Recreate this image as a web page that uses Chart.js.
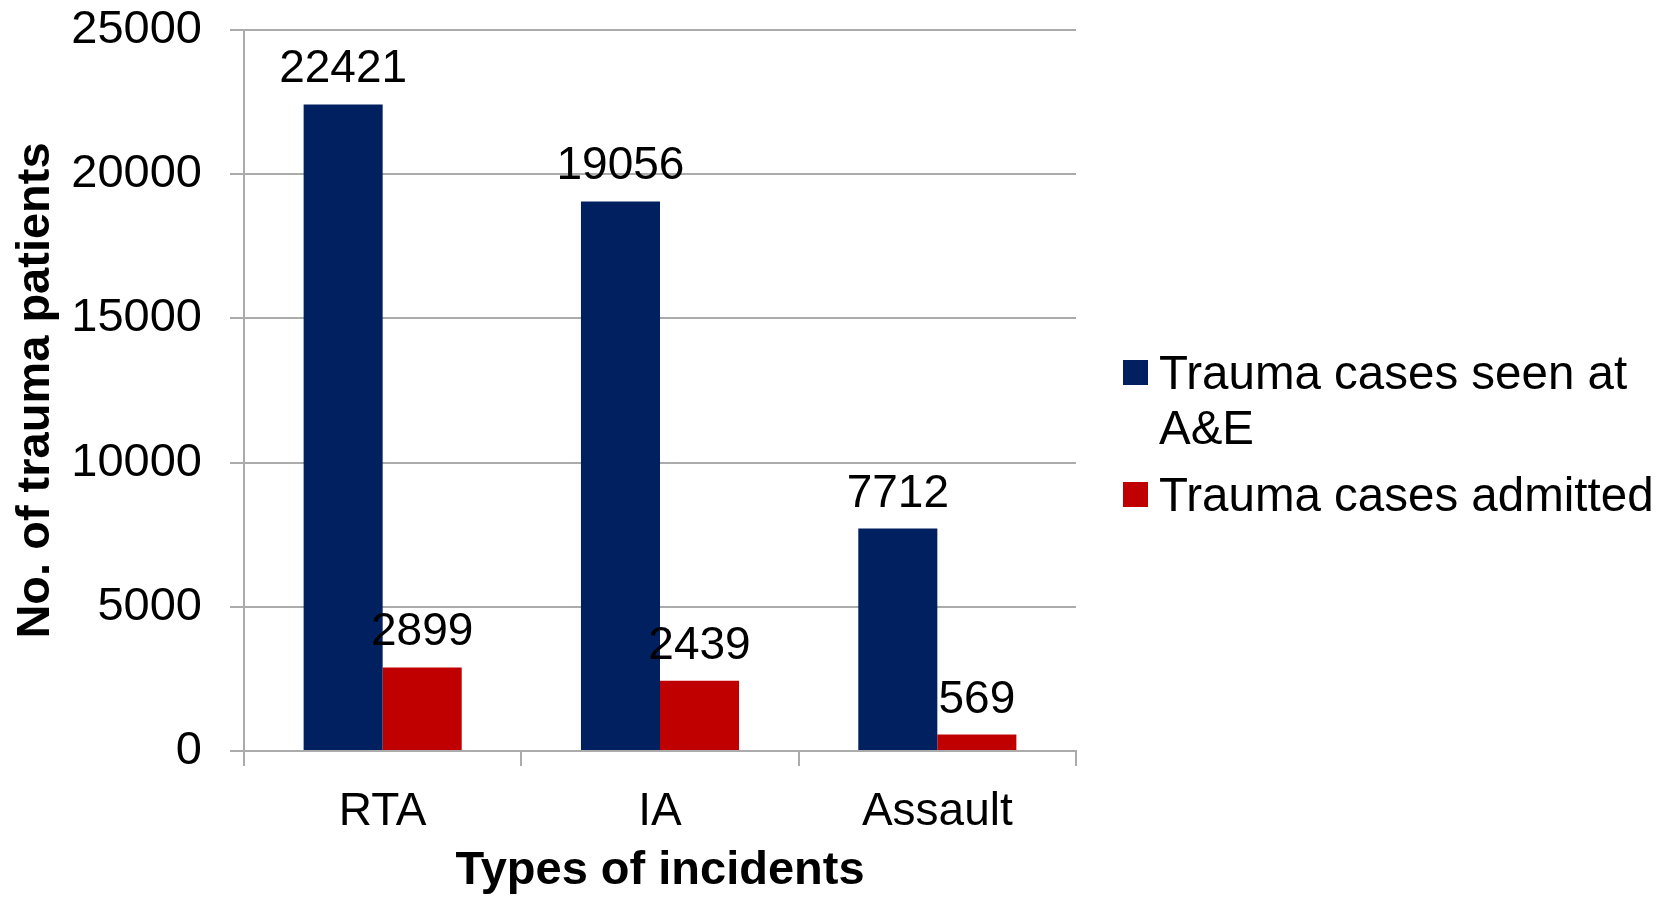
<!DOCTYPE html>
<html>
<head>
<meta charset="utf-8">
<title>Trauma patients by type of incident</title>
<script src="https://cdn.jsdelivr.net/npm/chart.js@4.4.1/dist/chart.umd.min.js"></script>
<style>
    html, body { margin: 0; padding: 0; background: #fff; overflow: hidden; }
    #wrap { width: 1665px; height: 899px; position: relative; }
</style>
</head>
<body>
<div id="wrap"><canvas id="traumaChart"></canvas></div>
<script>
const incidentTypes = ['RTA', 'IA', 'Assault'];
const seenAtAE = [22421, 19056, 7712];
const admitted = [2899, 2439, 569];
const seriesNames = ['Trauma cases seen at A&E', 'Trauma cases admitted'];
// legend text wrapped the way the original shows it
const legendLines = [['Trauma cases seen at', 'A&E'], ['Trauma cases admitted']];
const seriesColors = ['#002060', '#C00000'];

const FONT = '"Liberation Sans", Arial, Helvetica, sans-serif';
const gridColor = '#ababab';

// numbers above each bar
const valueLabels = {
    id: 'valueLabels',
    afterDatasetsDraw(chart) {
        const ctx = chart.ctx;
        ctx.save();
        ctx.font = '46px ' + FONT;
        ctx.fillStyle = '#000';
        ctx.textAlign = 'center';
        ctx.textBaseline = 'alphabetic';
        chart.data.datasets.forEach((ds, i) => {
            chart.getDatasetMeta(i).data.forEach((bar, j) => {
                ctx.fillText(String(ds.data[j]), bar.x, bar.y - 22);
            });
        });
        ctx.restore();
    }
};

// legend on the right, first item wraps onto two lines
const sideLegend = {
    id: 'sideLegend',
    afterDraw(chart) {
        const ctx = chart.ctx;
        const boxX = chart.chartArea.right + 47;
        const baselines = [389, 511];
        ctx.save();
        ctx.font = '47.5px ' + FONT;
        ctx.textAlign = 'left';
        ctx.textBaseline = 'alphabetic';
        legendLines.forEach((lines, i) => {
            const y = baselines[i];
            ctx.fillStyle = seriesColors[i];
            ctx.fillRect(boxX, y - 29, 25, 25);
            ctx.fillStyle = '#000';
            lines.forEach((line, k) => {
                ctx.fillText(line, boxX + 36, y + k * 55);
            });
        });
        ctx.restore();
    }
};

const ctx = document.getElementById('traumaChart').getContext('2d');
const traumaChart = new Chart(ctx, {
    type: 'bar',
    data: {
        labels: incidentTypes,
        datasets: [{
            label: seriesNames[0],
            data: seenAtAE,
            backgroundColor: seriesColors[0]
        }, {
            label: seriesNames[1],
            data: admitted,
            backgroundColor: seriesColors[1]
        }]
    },
    options: {
        responsive: true,
        maintainAspectRatio: false,
        animation: false,
        datasets: {
            bar: {
                categoryPercentage: 0.57,
                barPercentage: 1.0
            }
        },
        layout: {
            padding: { top: 30, right: 589, bottom: 0, left: 0 }
        },
        plugins: {
            legend: { display: false },
            tooltip: { enabled: false }
        },
        scales: {
            x: {
                afterFit: scale => {
                    scale.height = 148;
                    scale.paddingLeft = 0;
                    scale.paddingRight = 0;
                },
                grid: {
                    drawOnChartArea: false,
                    drawTicks: true,
                    tickLength: 15,
                    color: gridColor,
                    lineWidth: 2
                },
                border: { display: true, color: gridColor, width: 2 },
                ticks: {
                    color: '#000',
                    padding: 19,
                    font: { family: FONT, size: 46 }
                },
                title: {
                    display: true,
                    text: 'Types of incidents',
                    color: '#000',
                    padding: { top: 0, bottom: 0 },
                    font: { family: FONT, size: 47, weight: 'bold' }
                }
            },
            y: {
                min: 0,
                max: 25000,
                afterFit: scale => {
                    scale.width = 244;
                    scale.paddingTop = 0;
                    scale.paddingBottom = 0;
                },
                grid: {
                    color: gridColor,
                    lineWidth: 2,
                    tickLength: 14
                },
                border: { display: true, color: gridColor, width: 2 },
                ticks: {
                    stepSize: 5000,
                    color: '#000',
                    padding: 28,
                    font: { family: FONT, size: 47 },
                    callback: value => String(value)
                },
                title: {
                    display: true,
                    text: 'No. of trauma patients',
                    color: '#000',
                    padding: { top: 8, bottom: 0 },
                    font: { family: FONT, size: 47, weight: 'bold' }
                }
            }
        }
    },
    plugins: [valueLabels, sideLegend]
});
</script>
</body>
</html>
